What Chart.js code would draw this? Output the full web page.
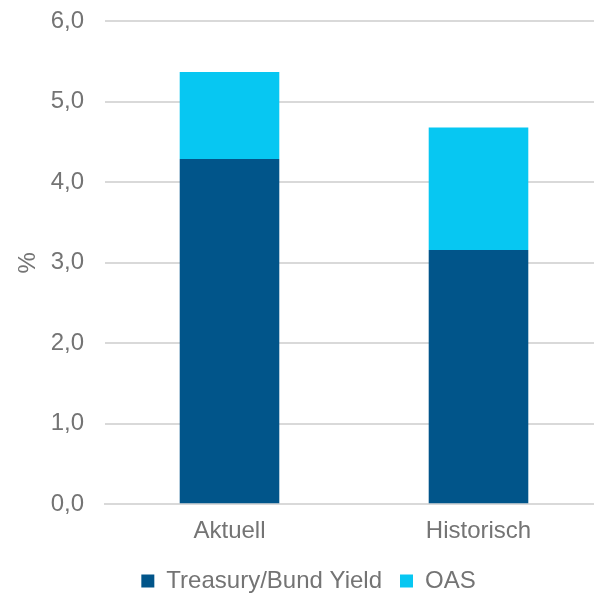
<!DOCTYPE html>
<html lang="de">
<head>
  <meta charset="UTF-8">
  <title>Treasury/Bund Yield und OAS</title>
  <script src="https://cdn.jsdelivr.net/npm/chart.js"></script>
  <style>
    html, body {
      margin: 0;
      padding: 0;
      overflow: hidden;
      background: #fff;
    }
    #barChart {
      display: block;
      margin-top: -14px;
    }
  </style>
</head>
<body>
  <canvas id="barChart" width="603" height="617"></canvas>

  <script>
    const categories = ['Aktuell', 'Historisch'];
    const yieldValues = [4.29, 3.16];
    const oasValues = [1.08, 1.52];
    const yTicks = [0, 1, 2, 3, 4, 5, 6];

    const grey = '#747474';
    const font = { family: 'Arial, "Liberation Sans", sans-serif', size: 24 };

    const ctx = document.getElementById('barChart').getContext('2d');

    const chart = new Chart(ctx, {
      type: 'bar',
      data: {
        labels: categories,
        datasets: [
          {
            label: 'Treasury/Bund Yield',
            data: yieldValues,
            backgroundColor: '#01558A',
            categoryPercentage: 1,
            barPercentage: 0.4
          },
          {
            label: 'OAS',
            data: oasValues,
            backgroundColor: '#07C7F2',
            categoryPercentage: 1,
            barPercentage: 0.4
          }
        ]
      },
      options: {
        responsive: false,
        animation: false,
        layout: {
          padding: { top: 8, left: 14, right: 0, bottom: 0 }
        },
        plugins: {
          tooltip: { enabled: false },
          legend: {
            position: 'bottom',
            labels: {
              font: font,
              color: grey,
              boxWidth: 13,
              boxHeight: 13,
              padding: 18
            }
          }
        },
        scales: {
          x: {
            stacked: true,
            grid: { display: false },
            border: { color: '#d9d9d9', width: 2 },
            ticks: { font: font, color: grey, padding: 5 }
          },
          y: {
            stacked: true,
            min: yTicks[0],
            max: yTicks[yTicks.length - 1],
            afterBuildTicks: axis => {
              axis.ticks = yTicks.map(v => ({ value: v }));
            },
            afterFit: axis => {
              axis.width = 91;
            },
            grid: { color: '#d9d9d9', lineWidth: 2, drawTicks: false },
            border: { display: false },
            title: {
              display: true,
              text: '%',
              font: font,
              color: grey,
              padding: 0
            },
            ticks: {
              font: font,
              color: grey,
              padding: 21,
              callback: v => v.toFixed(1).replace('.', ',')
            }
          }
        }
      }
    });
  </script>
</body>
</html>
